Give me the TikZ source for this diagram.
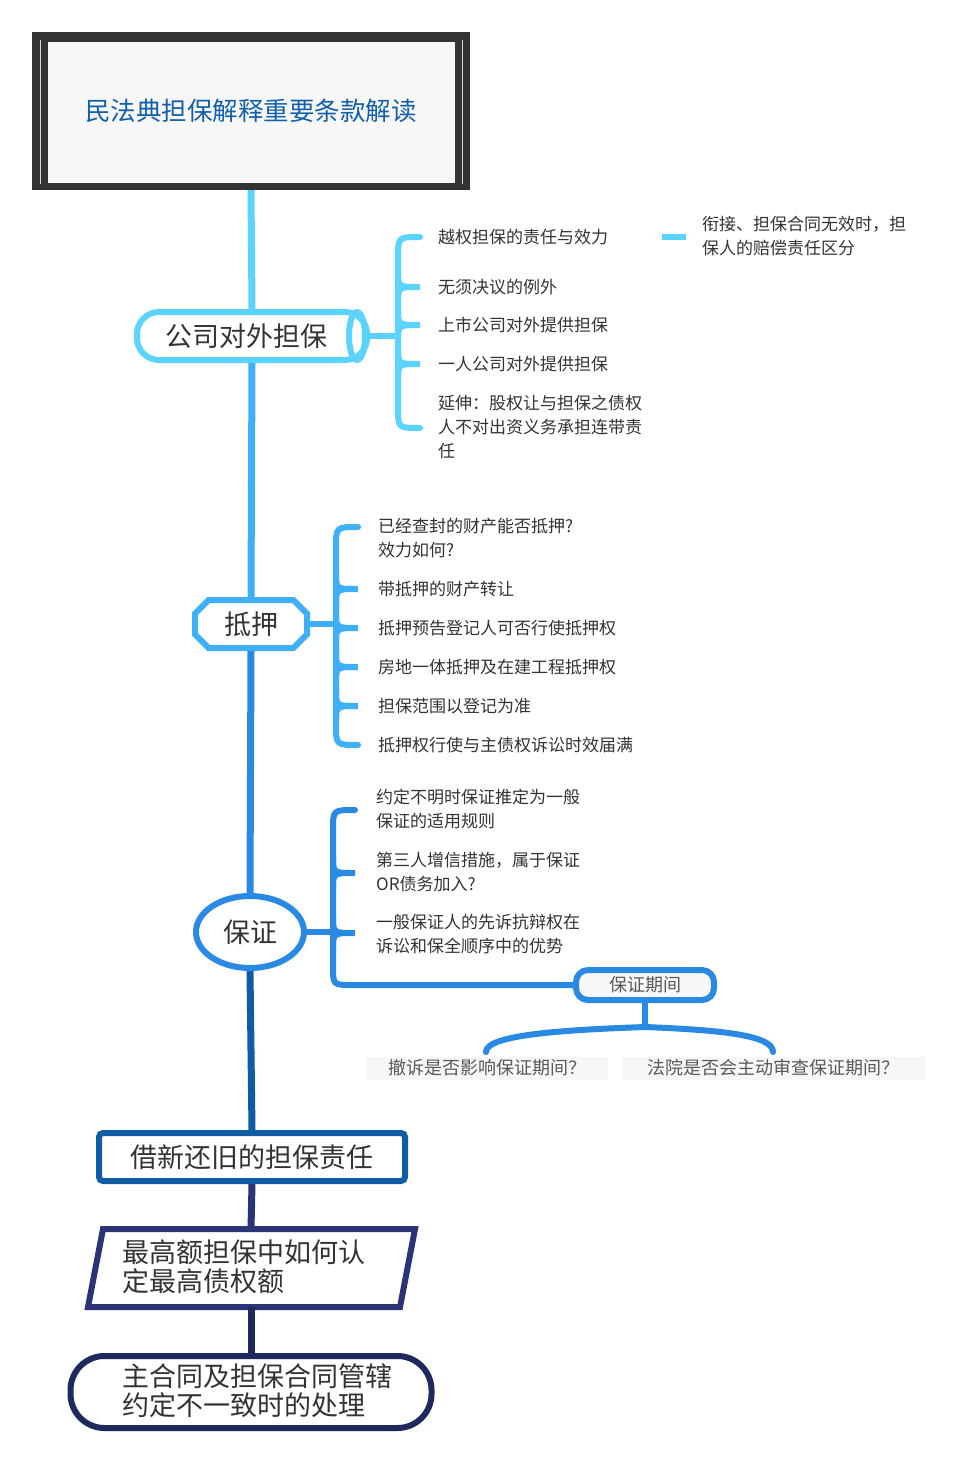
\documentclass[tikz,border=0pt]{standalone}
\usepackage{fontspec}
\setmainfont{Noto Sans CJK SC}
\usetikzlibrary{shapes.geometric,shapes.misc}
\definecolor{cA}{HTML}{5BD3FF}
\definecolor{cB}{HTML}{3FB0F7}
\definecolor{cC}{HTML}{2A89E2}
\definecolor{cD}{HTML}{0F5CA5}
\definecolor{cE}{HTML}{2B3476}
\definecolor{cF}{HTML}{1E2A5E}
\definecolor{txt}{HTML}{333333}
\tikzset{
  trunk/.style={line width=7pt},
  br/.style={line width=6pt,line cap=round},
  leaf/.style={anchor=west,text=txt,font=\fontsize{17pt}{24pt}\selectfont,align=left,inner sep=0pt},
  big/.style={text=txt,font=\fontsize{27pt}{29pt}\selectfont,inner sep=0pt},
  gray/.style={text=black!65,font=\fontsize{18pt}{20pt}\selectfont},
}
\begin{document}
\begin{tikzpicture}[x=1pt,y=-1pt]
\useasboundingbox (0,0) rectangle (974,1467);
\fill[fill=white] (0,0) rectangle (974,1467);
% title
\node[fill=black!80,minimum width=438pt,minimum height=158pt,inner sep=0pt] (root) at (251,111) {};
\fill[black!3] (48,42) rectangle (455,183);
\draw[white!70!gray,line width=1pt] (40,40) -- (40,184) (462,40) -- (462,184);
\node[text=cD!90!cC,font=\fontsize{25.5pt}{28pt}\selectfont] at (251,111) {民法典担保解释重要条款解读};
% nodes
\node[draw=cA,line width=6pt,rounded corners=22pt,minimum width=230pt,minimum height=48pt,inner sep=0pt] (gs) at (252,336) {};
\draw[cA,line width=6pt] (357,336) ellipse (8pt and 24pt);
\node[big] at (246,336) {公司对外担保};
\node[draw=cB,line width=6pt,chamfered rectangle,chamfered rectangle xsep=10pt,minimum width=112pt,minimum height=48pt,inner sep=0pt,big] (dy) at (251,624) {抵押};
\node[draw=cC,line width=6pt,ellipse,minimum width=108pt,minimum height=72pt,inner sep=0pt,big] (bz) at (250,932) {保证};
\node[draw=cD,line width=6pt,rounded corners=4pt,minimum width=306pt,minimum height=48pt,inner sep=0pt,big] (jx) at (252,1157) {借新还旧的担保责任};
\node[minimum width=300pt,minimum height=78pt,inner sep=0pt] (zg) at (251,1268) {};
\draw[cE,line width=6pt,line join=miter] (103,1229) -- (415,1229) -- (400,1307) -- (88,1307) -- cycle;
\node[big,anchor=west,align=left] at (122,1267) {最高额担保中如何认\\定最高债权额};
\node[draw=cF,line width=6pt,rounded corners=34pt,minimum width=361pt,minimum height=72pt,inner sep=0pt] (zh) at (251,1392) {};
\node[big,anchor=west,align=left] at (122,1391) {主合同及担保合同管辖\\约定不一致时的处理};
% trunk
\draw[trunk,cA] (root.south) -- (gs.north);
\draw[trunk,cB] (gs.south) -- (dy.north);
\draw[trunk,cC] (dy.south) -- (bz.north);
\draw[trunk,cD] (bz.south) -- (jx.north);
\draw[trunk,cE] (jx.south) -- (zg.north);
\draw[trunk,cF] (zg.south) -- (zh.north);
% branch 1
\draw[br,cA] (365,336) -- (398,336);
\draw[br,cA] (420,237) .. controls (398,237) .. (398,258) -- (398,408) .. controls (398,428) .. (420,428);
\foreach \y in {287,325,364}{
  \draw[br,cA] (398,\y-16) .. controls (398,\y) .. (420,\y) .. controls (398,\y) .. (398,\y+16);}
\node[leaf] at (438,237) {越权担保的责任与效力};
\node[leaf] at (438,287) {无须决议的例外};
\node[leaf] at (438,325) {上市公司对外提供担保};
\node[leaf] at (438,364) {一人公司对外提供担保};
\node[leaf] at (438,427) {延伸：股权让与担保之债权\\人不对出资义务承担连带责\\任};
\draw[line width=6pt,cA] (662,237) -- (686,237);
\node[leaf] at (702,236) {衔接、担保合同无效时，担\\保人的赔偿责任区分};
% branch 2
\draw[br,cB] (dy.east) -- (336,624);
\draw[br,cB] (358,527) .. controls (336,527) .. (336,548) -- (336,724) .. controls (336,745) .. (358,745);
\foreach \y in {589,628,667,706}{
  \draw[br,cB] (336,\y-16) .. controls (336,\y) .. (358,\y) .. controls (336,\y) .. (336,\y+16);}
\node[leaf] at (378,538) {已经查封的财产能否抵押?\\效力如何?};
\node[leaf] at (378,589) {带抵押的财产转让};
\node[leaf] at (378,628) {抵押预告登记人可否行使抵押权};
\node[leaf] at (378,667) {房地一体抵押及在建工程抵押权};
\node[leaf] at (378,706) {担保范围以登记为准};
\node[leaf] at (378,745) {抵押权行使与主债权诉讼时效届满};
% branch 3
\node[draw=cC,line width=6pt,rounded corners=12pt,fill=black!3,minimum width=138pt,minimum height=30pt,inner sep=0pt,gray] (qj) at (645,985) {保证期间};
\draw[br,cC] (bz.east) -- (333,932);
\draw[br,cC] (355,810) .. controls (333,810) .. (333,830) -- (333,967) .. controls (333,985) .. (353,985) -- (qj.west);
\foreach \y in {873,933}{
  \draw[br,cC] (333,\y-16) .. controls (333,\y) .. (355,\y) .. controls (333,\y) .. (333,\y+16);}
\node[leaf] at (376,809) {约定不明时保证推定为一般\\保证的适用规则};
\node[leaf] at (376,872) {第三人增信措施，属于保证\\OR债务加入?};
\node[leaf] at (376,934) {一般保证人的先诉抗辩权在\\诉讼和保全顺序中的优势};
\node[fill=black!3,minimum width=242pt,minimum height=23pt,inner sep=0pt,gray] (q1) at (487,1068) {撤诉是否影响保证期间？};
\node[fill=black!3,minimum width=303pt,minimum height=23pt,inner sep=0pt,gray] (q2) at (773,1068) {法院是否会主动审查保证期间？};
\coordinate (qm) at (645,1027);
\draw[br,cC] (qj.south) -- (qm);
\draw[br,cC] (qm) .. controls (560,1030) and (486,1035) .. (486,1052);
\draw[br,cC] (qm) .. controls (720,1030) and (773,1035) .. (773,1052);
\end{tikzpicture}
\end{document}
